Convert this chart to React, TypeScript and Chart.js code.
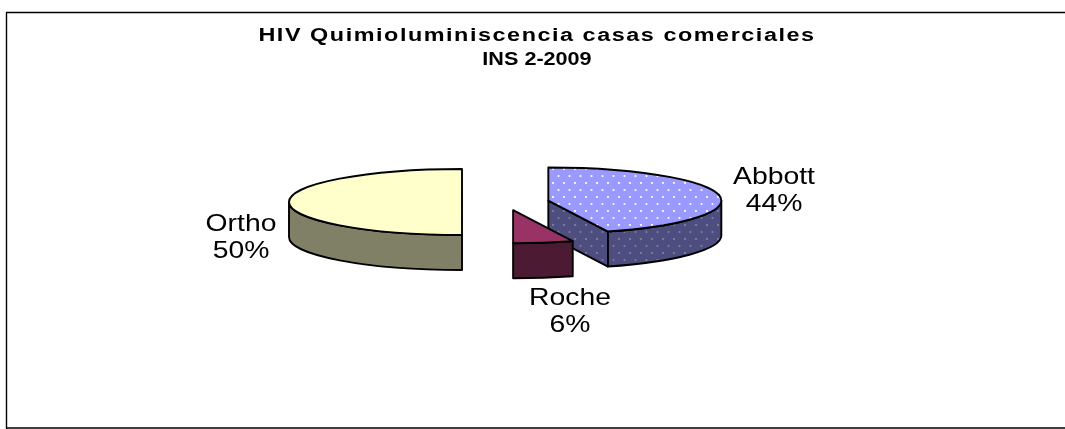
import React, { useEffect, useRef } from "react";
import { Chart, registerables } from "chart.js";

Chart.register(...registerables);

const categories = ["Abbott", "Roche", "Ortho"];
const shares = [44.4, 5.6, 50];
const topColors = ["#9999FF", "#993366", "#FFFFCC"];
const sideColors = ["#4D4D80", "#4D1A33", "#808066"];
const titleLines = ["HIV Quimioluminiscencia casas comerciales", "INS 2-2009"];

function dotPattern(ctx: CanvasRenderingContext2D, base: string, dot: string) {
  const c = document.createElement("canvas");
  c.width = 11;
  c.height = 14;
  const g = c.getContext("2d")!;
  g.fillStyle = base;
  g.fillRect(0, 0, 11, 14);
  g.fillStyle = dot;
  for (const [x, y] of [[3, 1], [8.5, 8]]) {
    g.beginPath();
    g.arc(x, y, 1.1, 0, Math.PI * 2);
    g.fill();
  }
  return ctx.createPattern(c, "repeat")!;
}

const pie3d = {
  id: "pie3d",
  beforeDraw(chart: any, _a: any, o: any) {
    const { ctx, width, height } = chart;
    ctx.save();
    ctx.fillStyle = "#fff";
    ctx.fillRect(0, 0, width, height);
    ctx.strokeStyle = "#000";
    ctx.lineWidth = 1.4;
    ctx.beginPath();
    ctx.moveTo(o.frame.left, height + 2);
    ctx.lineTo(o.frame.left, o.frame.top);
    ctx.lineTo(width + 2, o.frame.top);
    ctx.moveTo(o.frame.left, o.frame.bottom);
    ctx.lineTo(width + 2, o.frame.bottom);
    ctx.stroke();
    ctx.restore();
  },
  beforeDatasetsDraw(chart: any, _a: any, o: any) {
    const { ctx } = chart;

    // title
    ctx.save();
    ctx.fillStyle = "#000";
    ctx.font = o.titleFont;
    ctx.textAlign = "center";
    ctx.textBaseline = "middle";
    titleLines.forEach((t, j) => {
      ctx.save();
      ctx.translate(o.titleCenter, o.titleY[j]);
      ctx.scale(o.titleStretch[j], 1);
      (ctx as any).letterSpacing = o.titleSpacing[j] + "px";
      ctx.fillText(t, 0, 0);
      ctx.restore();
    });
    ctx.restore();

    const arcs = chart.getDatasetMeta(0).data;
    const { cx, cy, tilt, depth, explode } = o;
    const order = arcs
      .map((el: any, i: number) => ({ el, i, mid: (el.startAngle + el.endAngle) / 2 }))
      .sort((a: any, b: any) => Math.sin(a.mid) - Math.sin(b.mid));
    ctx.save();
    ctx.lineJoin = "round";
    ctx.strokeStyle = "#000";
    ctx.lineWidth = o.lineWidth;
    for (const { el, i, mid } of order) {
      const r = el.outerRadius;
      const a0 = el.startAngle;
      const a1 = el.endAngle;
      const x0 = cx + explode * Math.cos(mid);
      const y0 = cy + explode * tilt * Math.sin(mid);
      const px = (a: number) => x0 + r * Math.cos(a);
      const py = (a: number) => y0 + r * tilt * Math.sin(a);
      const dotted = i === 0;
      const sideFill = dotted ? dotPattern(ctx, sideColors[i], "#80809a") : sideColors[i];
      const topFill = dotted ? dotPattern(ctx, topColors[i], "#ffffff") : topColors[i];
      // radial cut faces turned towards the viewer
      const faces: number[] = [];
      if (Math.sin(a0 - Math.PI / 2) > 0.01) faces.push(a0);
      if (Math.sin(a1 + Math.PI / 2) > 0.01) faces.push(a1);
      for (const a of faces) {
        ctx.beginPath();
        ctx.moveTo(x0, y0);
        ctx.lineTo(px(a), py(a));
        ctx.lineTo(px(a), py(a) + depth);
        ctx.lineTo(x0, y0 + depth);
        ctx.closePath();
        ctx.fillStyle = sideFill;
        ctx.fill();
        ctx.stroke();
      }
      // outer wall: the part of the rim on the near side
      const s = Math.max(a0, 0);
      const e = Math.min(a1, Math.PI);
      if (e > s) {
        ctx.beginPath();
        ctx.ellipse(x0, y0, r, r * tilt, 0, s, e);
        ctx.lineTo(px(e), py(e) + depth);
        ctx.ellipse(x0, y0 + depth, r, r * tilt, 0, e, s, true);
        ctx.closePath();
        ctx.fillStyle = sideFill;
        ctx.fill();
        ctx.stroke();
      }
      // top face
      ctx.beginPath();
      ctx.moveTo(x0, y0);
      ctx.ellipse(x0, y0, r, r * tilt, 0, a0, a1);
      ctx.closePath();
      ctx.fillStyle = topFill;
      ctx.fill();
      ctx.stroke();
    }
    ctx.restore();

    // data labels
    ctx.save();
    ctx.fillStyle = "#000";
    ctx.font = o.labelFont;
    ctx.textAlign = "center";
    ctx.textBaseline = "middle";
    arcs.forEach((_el: any, i: number) => {
      const p = o.labelAt[i];
      const lines = [categories[i], Math.round(shares[i]) + "%"];
      lines.forEach((t, j) => {
        ctx.save();
        ctx.translate(p[0], p[1] + j * o.labelLeading);
        ctx.scale(o.labelStretch, 1);
        ctx.fillText(t, 0, 0);
        ctx.restore();
      });
    });
    ctx.restore();
    return false;
  },
};

export default function App() {
  const ref = useRef<HTMLCanvasElement>(null);
  useEffect(() => {
    const chart = new Chart(ref.current!, {
      type: "pie",
      data: {
        labels: categories,
        datasets: [{ data: shares, backgroundColor: topColors, radius: 173, borderWidth: 0 } as any],
      },
      plugins: [pie3d as any],
      options: {
        responsive: false,
        animation: false,
        plugins: {
          legend: { display: false },
          tooltip: { enabled: false },
          title: { display: false },
          pie3d: {
            cx: 505.5,
            cy: 202,
            tilt: 0.191,
            depth: 35,
            explode: 43.5,
            lineWidth: 1.9,
            frame: { left: 6.5, top: 12.5, bottom: 428 },
            titleFont: "bold 18px 'Liberation Sans'",
            titleCenter: 537,
            titleY: [36, 60],
            titleStretch: [1.3, 1.2],
            titleSpacing: [1.18, 0],
            labelFont: "24px 'Liberation Sans'",
            labelStretch: 1.18,
            labelLeading: 26.5,
            labelAt: [[774, 177.5], [570, 298.5], [241, 224.5]],
          },
        } as any,
      },
    });
    return () => chart.destroy();
  }, []);
  return (
    <div style={{ position: "absolute", left: 0, top: 0, width: 1065, height: 429 }}>
      <canvas ref={ref} width={1065} height={429} style={{ display: "block" }} />
    </div>
  );
}
